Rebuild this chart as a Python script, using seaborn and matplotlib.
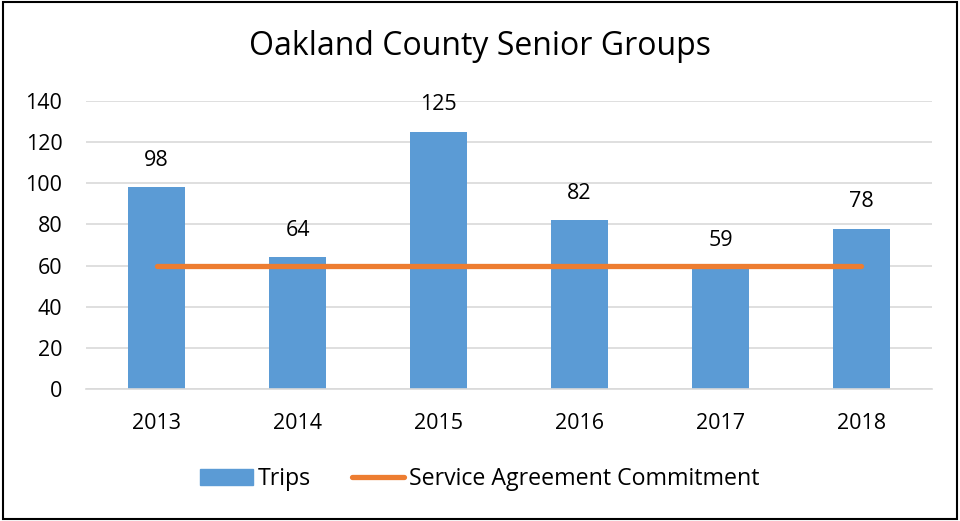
import numpy as np
import pandas as pd
import seaborn as sns
import matplotlib.pyplot as plt
from matplotlib.patches import Patch, Rectangle
from matplotlib.lines import Line2D

years = ["2013", "2014", "2015", "2016", "2017", "2018"]
trips = [98, 64, 125, 82, 59, 78]
commitment = [60, 60, 60, 60, 60, 60]

sns.set_style("white")
plt.rcParams['font.family'] = ['Open Sans', 'DejaVu Sans']
plt.rcParams['text.color'] = 'black'

blue = "#5B9BD5"
orange = "#ED7D31"

df = pd.DataFrame({"Year": years, "Trips": trips})

fig = plt.figure(figsize=(9.6, 5.21), dpi=100)
ax = fig.add_axes([0.0896, 0.2534, 0.8812, 0.5526])

sns.barplot(data=df, x="Year", y="Trips", color=blue, width=0.4, ax=ax,
            saturation=1, zorder=2, linewidth=0)
sns.lineplot(x=np.arange(len(years)), y=commitment, color=orange, linewidth=3.8,
             ax=ax, zorder=3, solid_capstyle="round")

for i, v in enumerate(trips):
    ax.text(i, v + 8, str(v), ha="center", va="bottom", fontsize=15.5, color="black")

ax.set_ylim(0, 140)
ax.set_yticks(range(0, 141, 20))
ax.set_xlim(-0.5, len(years) - 0.5)
ax.yaxis.grid(True, color="#D9D9D9", linewidth=1.2, zorder=0)
ax.set_axisbelow(True)
for s in ["top", "right", "left"]:
    ax.spines[s].set_visible(False)
ax.spines["bottom"].set_color("#D9D9D9")
ax.spines["bottom"].set_linewidth(1.2)
ax.tick_params(axis="both", length=0, labelsize=15.5, colors="black")
ax.tick_params(axis="y", pad=17)
ax.tick_params(axis="x", pad=17)
ax.set_xlabel("")
ax.set_ylabel("")

fig.text(0.5, 0.91, "Oakland County Senior Groups", ha="center", va="center",
         fontsize=23, color="black")

handles = [Patch(facecolor=blue, edgecolor=blue),
           Line2D([0], [0], color=orange, linewidth=3.8, solid_capstyle="round")]
leg = fig.legend(handles, ["Trips", "Service Agreement Commitment"], loc="center",
                 bbox_to_anchor=(0.5, 0.08), ncol=2, frameon=False, fontsize=16.7,
                 handlelength=2.25, handleheight=0.7, columnspacing=1.8, handletextpad=0.2)
for t in leg.get_texts():
    t.set_color("black")

fig.patches.append(Rectangle((0.003, 0.004), 0.994, 0.992, transform=fig.transFigure,
                             fill=False, edgecolor="black", linewidth=1.5))

fig.savefig("out.png", dpi=100)
